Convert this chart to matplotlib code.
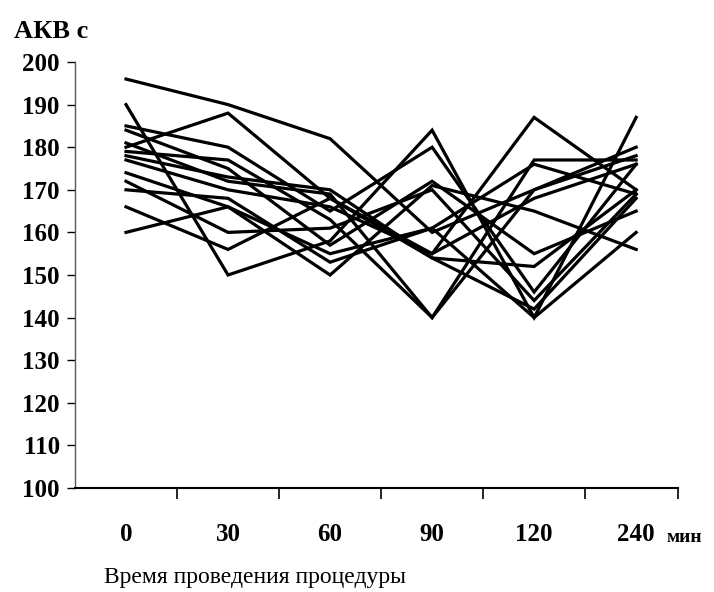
import numpy as np
import matplotlib.pyplot as plt

plt.rcParams['font.family'] = ['Liberation Serif', 'DejaVu Serif']

# time points (categories)
times = ["0", "30", "60", "90", "120", "240"]

# АКВ, c - one line per patient
p01 = [196, 190, 182, 160, 170, 178]
p02 = [190, 150, 158, 184, 140, 187]
p03 = [180, 188, 168, 155, 187, 170]
p04 = [185, 180, 165, 180, 146, 176]
p05 = [181, 172, 169, 140, 177, 177]
p06 = [179, 177, 163, 140, 170, 180]
p07 = [178, 173, 170, 154, 142, 168]
p08 = [184, 175, 157, 172, 155, 165]
p09 = [174, 166, 150, 171, 165, 156]
p10 = [172, 160, 161, 170, 144, 169]
p11 = [170, 168, 153, 161, 140, 160]
p12 = [166, 156, 168, 154, 152, 170]
p13 = [160, 166, 155, 161, 176, 169]
p14 = [177, 170, 166, 155, 168, 176]
patients = [p01, p02, p03, p04, p05, p06, p07, p08, p09, p10, p11, p12, p13, p14]

fig = plt.figure(figsize=(7.14, 5.92), dpi=100)
ax = fig.add_axes([75/714, 1-488/592, 603/714, (488-62)/592])

x = np.arange(len(times))
for p in patients:
    ax.plot(x, p, color='black', lw=2.3, solid_joinstyle='miter')

ax.set_xlim(-0.5, 5.41)
ax.set_ylim(100, 200)
ax.set_yticks(np.arange(100, 201, 10))
ax.set_yticklabels([str(v) for v in range(100, 201, 10)], fontweight='bold', fontsize=18)
ax.set_xticks([0.5, 1.5, 2.5, 3.5, 4.5, 5.41])
ax.set_xticklabels([])
ax.tick_params(axis='x', direction='out', length=8, width=1.2)
ax.tick_params(axis='y', direction='out', length=6, width=1, pad=5)

for s in ['top', 'right']:
    ax.spines[s].set_visible(False)
ax.spines['left'].set_linestyle((0, (2, 1)))
ax.spines['left'].set_color('0.35')
ax.spines['left'].set_linewidth(1)
ax.spines['bottom'].set_linewidth(1.5)

trans = ax.get_xaxis_transform()
for i, t in enumerate(times):
    ax.text(i, -0.11, t, transform=trans, ha='center', va='center',
            fontsize=18, fontweight='bold')
fig.text(667/714, 1-538/592, "мин", ha='left', va='center', fontsize=14, fontweight='bold')

fig.text(255/714, 1-578/592, "Время проведения процедуры", ha='center', va='center', fontsize=17)
fig.text(14/714, 1-31/592, "АКВ с", ha='left', va='center', fontsize=19, fontweight='bold')

fig.savefig("out.png", dpi=100)
